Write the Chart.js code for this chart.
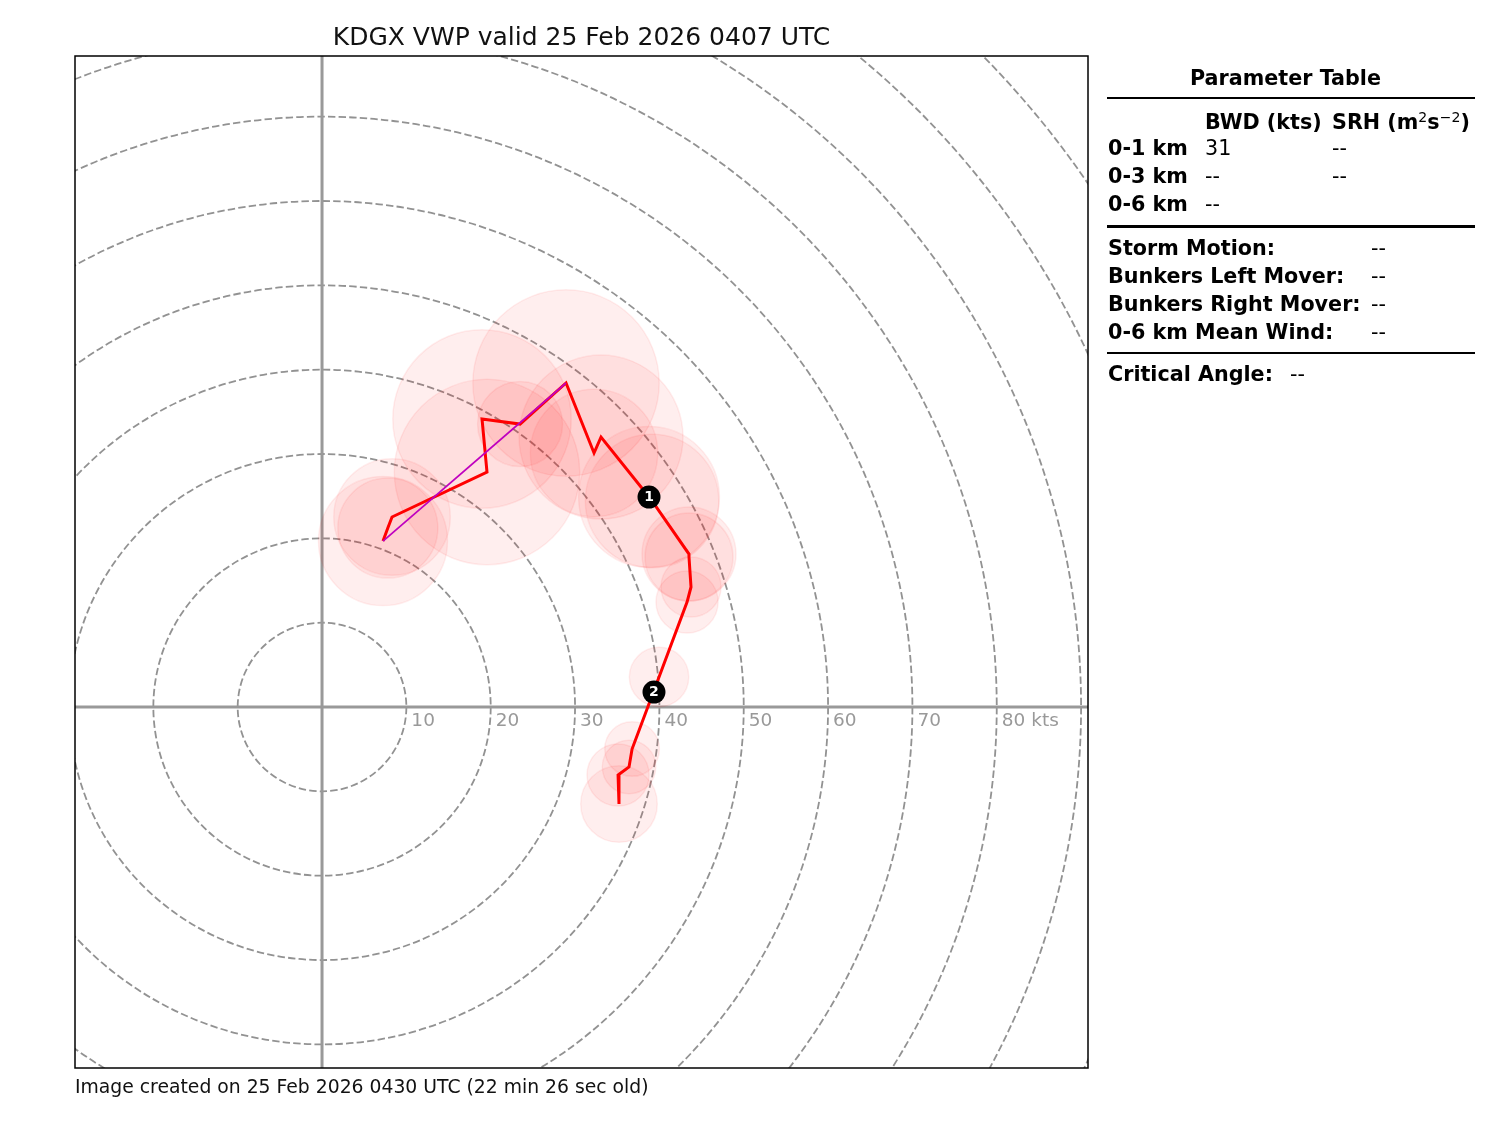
<!DOCTYPE html>
<html><head><meta charset="utf-8">
<script src="https://cdn.jsdelivr.net/npm/chart.js@4.4.1/dist/chart.umd.min.js"></script>
<style>
html,body{margin:0;padding:0;background:#fff;}
#wrap{position:relative;width:1500px;height:1125px;overflow:hidden;font-family:"DejaVu Sans",sans-serif;color:#000;}
canvas{position:absolute;left:0;top:0;}
.t{position:absolute;white-space:nowrap;line-height:1;}
.b{font-weight:bold;}
.rule{position:absolute;left:1107px;width:368px;height:2.7px;background:#000;}
sup{font-size:0.68em;font-weight:normal;vertical-align:0.5em;line-height:0;}
</style></head>
<body><div id="wrap"><canvas id="c" width="1500" height="1125"></canvas></div>
<script>
// ---------------- data (kts) ----------------
const windU  = [7.23, 7.80, 8.30, 19.56, 18.97, 23.48, 28.93, 32.25, 33.08, 38.77, 39.13, 43.51, 43.51, 43.75, 43.28, 39.96, 36.76, 36.40, 35.10, 35.21];
const windV  = [19.68, 21.22, 22.53, 27.86, 34.15, 33.55, 38.42, 30.12, 32.01, 24.90, 24.43, 18.14, 17.79, 14.23, 12.45, 3.56, -4.98, -7.11, -8.06, -11.50];
const errKts = [7.65, 5.93, 6.91, 10.99, 10.58, 5.04, 11.05, 7.55, 9.72, 8.35, 7.91, 5.57, 5.22, 3.56, 3.68, 3.52, 3.24, 3.17, 3.68, 4.54];
const shearU = [7.23, 28.93];
const shearV = [19.68, 38.42];
const markerU = [38.77, 39.36];
const markerV = [24.90, 1.78];
const markerLabels = ['1', '2'];
const ringKts = [10, 20, 30, 40, 50, 60, 70, 80, 90, 100, 110, 120];
const ringLabelKts = [10, 20, 30, 40, 50, 60, 70, 80];
const ringLabels = ['10', '20', '30', '40', '50', '60', '70', '80 kts'];
const xLimits = [-29.29, 90.82];
const yLimits = [-42.80, 77.19];

const titleText = 'KDGX VWP valid 25 Feb 2026 0407 UTC';
const footerText = 'Image created on 25 Feb 2026 0430 UTC (22 min 26 sec old)';
const layerNames = ['0-1 km', '0-3 km', '0-6 km'];
const bwdValues = ['31', '--', '--'];
const srhValues = ['--', '--', ''];
const motionNames = ['Storm Motion:', 'Bunkers Left Mover:', 'Bunkers Right Mover:', '0-6 km Mean Wind:'];
const motionValues = ['--', '--', '--', '--'];
const critName = 'Critical Angle:';
const critValue = '--';

// ---------------- text helpers ----------------
const wrap = document.getElementById('wrap');
function place(html, x, capY, size, bold, align, color) {
  const d = document.createElement('div');
  d.className = 't' + (bold ? ' b' : '');
  d.innerHTML = html;
  d.style.fontSize = size + 'px';
  d.style.left = x + 'px';
  d.style.top = (capY - 0.48 * size) + 'px';
  if (color) d.style.color = color;
  if (align === 'center') d.style.transform = 'translateX(-50%)';
  wrap.appendChild(d);
  return d;
}
function rule(y) {
  const d = document.createElement('div');
  d.className = 'rule';
  d.style.top = (y - 1.35) + 'px';
  wrap.appendChild(d);
}

place(titleText, 581.5, 35.5, 25, false, 'center', '#111');
place(footerText, 75, 1087, 18.8, false, 'left', '#111');

const TS = 20.7;
place('Parameter Table', 1285.5, 77.5, TS, true, 'center');
rule(98);
place('BWD (kts)', 1205, 121.7, TS, true);
place('SRH (m<sup>2</sup>s<sup>\u22122</sup>)', 1332, 121.7, TS, true);
const rowY = [148, 176, 204];
layerNames.forEach((n, i) => {
  place(n, 1108, rowY[i], TS, true);
  place(bwdValues[i], 1205, rowY[i], TS, false);
  if (srhValues[i]) place(srhValues[i], 1332, rowY[i], TS, false);
});
rule(226.5);
const motY = [247.5, 276, 303.5, 331.5];
motionNames.forEach((n, i) => {
  place(n, 1108, motY[i], TS, true);
  place(motionValues[i], 1371, motY[i], TS, false);
});
rule(353);
place(critName, 1108, 373.5, TS, true);
place(critValue, 1290, 373.5, TS, false);

// ---------------- chart ----------------
const windPts = windU.map((u, i) => ({x: u, y: windV[i]}));
const shearPts = shearU.map((u, i) => ({x: u, y: shearV[i]}));
const markerPts = markerU.map((u, i) => ({x: u, y: markerV[i]}));

function pxPerKt(chart) {
  const s = chart.scales.x;
  return Math.abs(s.getPixelForValue(1) - s.getPixelForValue(0));
}

const hodoPlugin = {
  id: 'hodo',
  beforeDatasetsDraw(chart) {
    const {ctx, chartArea: a, scales: {x, y}} = chart;
    const x0 = x.getPixelForValue(0), y0 = y.getPixelForValue(0);
    const k = pxPerKt(chart);
    ctx.save();
    ctx.beginPath();
    ctx.rect(a.left, a.top, a.right - a.left, a.bottom - a.top);
    ctx.clip();
    // rings
    ctx.strokeStyle = '#929292';
    ctx.lineWidth = 1.8;
    ctx.setLineDash([7.4, 3.2]);
    ringKts.forEach(r => {
      ctx.beginPath();
      ctx.arc(x0, y0, r * k, 0, Math.PI * 2);
      ctx.stroke();
    });
    ctx.setLineDash([]);
    // axes
    ctx.strokeStyle = '#999999';
    ctx.lineWidth = 3;
    ctx.beginPath();
    ctx.moveTo(a.left, y0); ctx.lineTo(a.right, y0);
    ctx.moveTo(x0, a.top); ctx.lineTo(x0, a.bottom);
    ctx.stroke();
    // ring labels
    ctx.fillStyle = '#999999';
    ctx.font = '18.5px "DejaVu Sans"';
    ctx.textAlign = 'left';
    ctx.textBaseline = 'alphabetic';
    ringLabelKts.forEach((r, i) => {
      ctx.fillText(ringLabels[i], x.getPixelForValue(r) + 5, y0 + 19);
    });
    ctx.restore();
  },
  afterDatasetsDraw(chart) {
    const {ctx, scales: {x, y}} = chart;
    ctx.save();
    ctx.fillStyle = '#fff';
    ctx.font = 'bold 14px "DejaVu Sans"';
    ctx.textAlign = 'center';
    ctx.textBaseline = 'middle';
    markerPts.forEach((p, i) => {
      ctx.fillText(markerLabels[i], x.getPixelForValue(p.x), y.getPixelForValue(p.y) + 0.5);
    });
    ctx.restore();
  },
  afterDraw(chart) {
    const {ctx, chartArea: a} = chart;
    ctx.save();
    ctx.strokeStyle = '#000';
    ctx.lineWidth = 1.5;
    ctx.strokeRect(a.left, a.top, a.right - a.left, a.bottom - a.top);
    ctx.restore();
  }
};

new Chart(document.getElementById('c'), {
  type: 'scatter',
  data: {
    datasets: [
      {
        label: 'heights',
        data: markerPts,
        pointRadius: 11.5,
        pointBackgroundColor: '#000',
        pointBorderColor: '#000',
        pointBorderWidth: 0,
        showLine: false,
        order: 1
      },
      {
        label: 'shear',
        data: shearPts,
        showLine: true,
        borderColor: '#bf00bf',
        borderWidth: 1.7,
        pointRadius: 0,
        tension: 0,
        order: 2
      },
      {
        label: 'hodograph',
        data: windPts,
        showLine: true,
        borderColor: '#ff0000',
        borderWidth: 3,
        pointRadius: 0,
        tension: 0,
        borderJoinStyle: 'miter',
        order: 3
      },
      {
        label: 'rms error',
        data: windPts,
        showLine: false,
        pointRadius: ctx => errKts[ctx.dataIndex] * pxPerKt(ctx.chart),
        pointBackgroundColor: 'rgba(255,0,0,0.065)',
        pointBorderColor: 'rgba(255,0,0,0.07)',
        pointBorderWidth: 1.5,
        order: 4
      }
    ]
  },
  options: {
    responsive: false,
    animation: false,
    devicePixelRatio: 1,
    events: [],
    layout: {padding: {left: 75, top: 56, right: 412, bottom: 57}},
    scales: {
      x: {type: 'linear', min: xLimits[0], max: xLimits[1], display: false},
      y: {type: 'linear', min: yLimits[0], max: yLimits[1], display: false}
    },
    plugins: {legend: {display: false}, tooltip: {enabled: false}, title: {display: false}}
  },
  plugins: [hodoPlugin]
});
</script>
</body></html>
